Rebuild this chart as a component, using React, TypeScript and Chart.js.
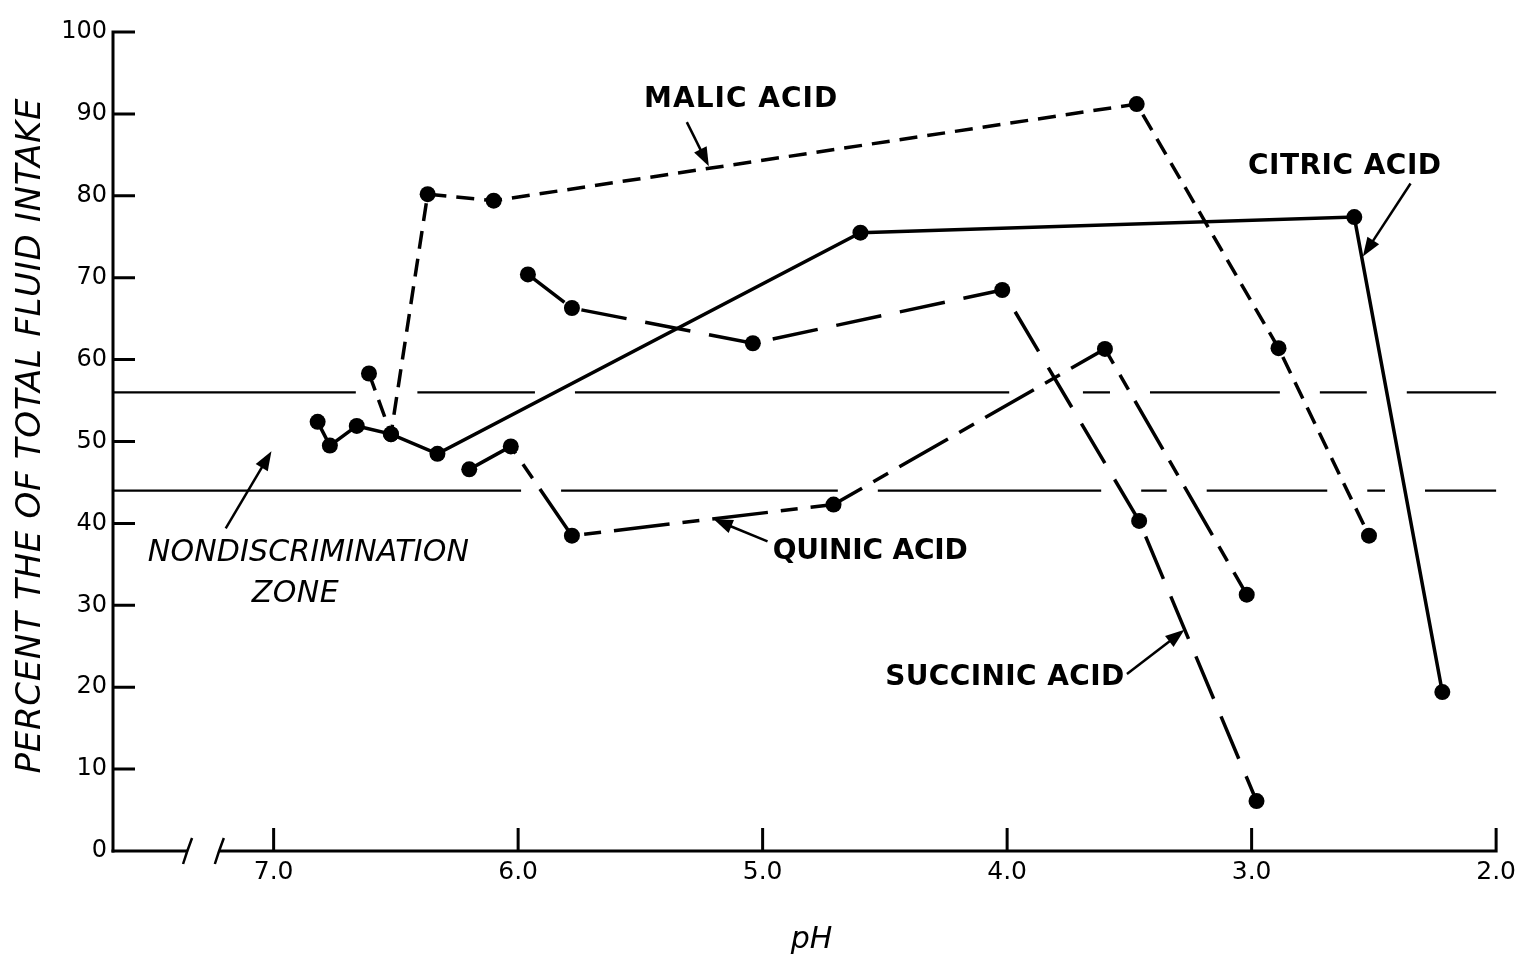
import React, { useEffect, useRef } from 'react';
import { Chart, registerables } from 'chart.js';

Chart.register(...registerables);

const FONT = '"DejaVu Sans", "Liberation Sans", sans-serif';

// ---- axes ----
const xTickValues = [7, 6, 5, 4, 3, 2];
const yTickValues = [0, 10, 20, 30, 40, 50, 60, 70, 80, 90, 100];
const X_MIN = 2.0;
const X_MAX = 7.657;
const axisBreakPH = [7.35, 7.22];

// ---- series (pH, percent of total fluid intake) ----
const citricPH = [6.82, 6.77, 6.66, 6.52, 6.33, 4.6, 2.58, 2.22];
const citricPct = [52.4, 49.5, 51.9, 50.9, 48.5, 75.5, 77.4, 19.4];

const malicPH = [6.61, 6.52, 6.37, 6.1, 3.47, 2.89, 2.52];
const malicPct = [58.3, 50.9, 80.2, 79.4, 91.2, 61.4, 38.5];

const succinicPH = [5.96, 5.78, 5.04, 4.02, 3.46, 2.98];
const succinicPct = [70.4, 66.3, 62.0, 68.5, 40.3, 6.1];

const quinicPH = [6.2, 6.03, 5.78, 4.71, 3.6, 3.02];
const quinicPct = [46.6, 49.4, 38.5, 42.3, 61.3, 31.3];

// nondiscrimination zone bounds (percent)
const nondiscriminationBounds = [56, 44];

// ---- annotations (positions in data units: [pH, percent]) ----
const seriesLabels = [
  { text: 'MALIC ACID', at: [5.09, 91.7], width: 193, from: [5.31, 89.0], to: [5.22, 83.6] },
  { text: 'CITRIC ACID', at: [2.62, 83.6], width: 193, from: [2.35, 81.5], to: [2.545, 72.6] },
  { text: 'QUINIC ACID', at: [4.56, 36.6], width: 195, from: [4.98, 37.8], to: [5.2, 40.5] },
  { text: 'SUCCINIC ACID', at: [4.01, 21.2], width: 239, from: [3.51, 21.6], to: [3.275, 27.0] },
];
const zoneLabels = [
  { text: 'NONDISCRIMINATION', at: [6.858, 36.36], width: 321 },
  { text: 'ZONE', at: [6.912, 31.39], width: 87 },
];
const zoneArrow = { from: [7.196, 39.4], to: [7.009, 48.8] };

const yTitle = 'PERCENT THE OF TOTAL FLUID INTAKE';
const xTitle = 'pH';

function toPoints(xs: number[], ys: number[]) {
  return xs.map((x, i) => ({ x, y: ys[i] }));
}

function drawFitted(ctx: any, text: string, x: number, y: number, font: string, width: number, baseline = 'middle') {
  ctx.font = font;
  ctx.letterSpacing = '0px';
  const w = ctx.measureText(text).width;
  const ls = text.length > 1 ? (width - w) / (text.length - 1) : 0;
  ctx.letterSpacing = ls + 'px';
  ctx.textAlign = 'center';
  ctx.textBaseline = baseline;
  ctx.fillText(text, x + ls / 2, y);
  ctx.letterSpacing = '0px';
}

function drawArrow(ctx: any, x1: number, y1: number, x2: number, y2: number) {
  const a = Math.atan2(y2 - y1, x2 - x1);
  const L = 19;
  const W = 7;
  ctx.beginPath();
  ctx.moveTo(x1, y1);
  ctx.lineTo(x2 - (L - 2) * Math.cos(a), y2 - (L - 2) * Math.sin(a));
  ctx.stroke();
  ctx.beginPath();
  ctx.moveTo(x2, y2);
  ctx.lineTo(x2 - L * Math.cos(a) + W * Math.sin(a), y2 - L * Math.sin(a) - W * Math.cos(a));
  ctx.lineTo(x2 - L * Math.cos(a) - W * Math.sin(a), y2 - L * Math.sin(a) + W * Math.cos(a));
  ctx.closePath();
  ctx.fill();
}

const GAP = 20;

const decorPlugin = {
  id: 'decor',
  beforeDatasetsDraw(chart: any) {
    const { ctx, chartArea: ca, scales } = chart;
    const x = scales.x;
    const y = scales.y;
    ctx.save();
    ctx.strokeStyle = '#000';
    ctx.lineWidth = 2.2;
    const xStart = ca.left;
    const xEnd = x.getPixelForValue(X_MIN);
    nondiscriminationBounds.forEach((v) => {
      const py = y.getPixelForValue(v);
      const cuts: number[] = [];
      chart.data.datasets.forEach((_ds: any, i: number) => {
        const pts = chart.getDatasetMeta(i).data;
        for (let k = 0; k < pts.length - 1; k++) {
          const a = pts[k];
          const b = pts[k + 1];
          if ((a.y - py) * (b.y - py) < 0) {
            cuts.push(a.x + ((py - a.y) / (b.y - a.y)) * (b.x - a.x));
          }
        }
      });
      cuts.sort((p, q) => p - q);
      let cur = xStart;
      ctx.beginPath();
      for (const c of cuts) {
        const g0 = c - GAP;
        const g1 = c + GAP;
        if (g0 > cur) {
          ctx.moveTo(cur, py);
          ctx.lineTo(g0, py);
        }
        cur = Math.max(cur, g1);
      }
      if (cur < xEnd) {
        ctx.moveTo(cur, py);
        ctx.lineTo(xEnd, py);
      }
      ctx.stroke();
    });
    ctx.restore();
  },
  afterDraw(chart: any) {
    const { ctx, chartArea: ca, scales } = chart;
    const x = scales.x;
    const y = scales.y;
    ctx.save();
    ctx.strokeStyle = '#000';
    ctx.fillStyle = '#000';
    ctx.lineCap = 'butt';
    ctx.lineWidth = 3;

    const left = ca.left;
    const bottom = ca.bottom;
    const top = y.getPixelForValue(100);

    // y axis + inward ticks
    ctx.beginPath();
    ctx.moveTo(left, top - 1.5);
    ctx.lineTo(left, bottom + 1.5);
    yTickValues.forEach((v) => {
      if (v === 0) return;
      const py = y.getPixelForValue(v);
      ctx.moveTo(left, py);
      ctx.lineTo(left + 22, py);
    });
    ctx.stroke();

    // x axis with break
    const b1 = x.getPixelForValue(axisBreakPH[0]);
    const b2 = x.getPixelForValue(axisBreakPH[1]);
    const right = x.getPixelForValue(X_MIN);
    ctx.beginPath();
    ctx.moveTo(left - 1.5, bottom);
    ctx.lineTo(b1, bottom);
    ctx.moveTo(b2, bottom);
    ctx.lineTo(right + 1.5, bottom);
    xTickValues.forEach((v) => {
      const px = x.getPixelForValue(v);
      ctx.moveTo(px, bottom);
      ctx.lineTo(px, bottom - 23);
    });
    ctx.stroke();

    ctx.lineWidth = 2.5;
    [b1, b2].forEach((bx) => {
      ctx.beginPath();
      ctx.moveTo(bx - 5, bottom + 13);
      ctx.quadraticCurveTo(bx - 1, bottom, bx + 4, bottom - 13);
      ctx.stroke();
    });

    // axis titles
    ctx.save();
    ctx.translate(40, 436);
    ctx.rotate(-Math.PI / 2);
    drawFitted(ctx, yTitle, 0, 0, `italic 34px ${FONT}`, 675, 'alphabetic');
    ctx.restore();
    ctx.font = `italic 30px ${FONT}`;
    ctx.textAlign = 'center';
    ctx.textBaseline = 'middle';
    ctx.fillText(xTitle, x.getPixelForValue(4.8), bottom + 89);

    // series labels with arrows
    ctx.lineWidth = 2.5;
    seriesLabels.forEach((l) => {
      drawFitted(ctx, l.text, x.getPixelForValue(l.at[0]), y.getPixelForValue(l.at[1]), `bold 28px ${FONT}`, l.width);
      drawArrow(
        ctx,
        x.getPixelForValue(l.from[0]),
        y.getPixelForValue(l.from[1]),
        x.getPixelForValue(l.to[0]),
        y.getPixelForValue(l.to[1])
      );
    });

    // nondiscrimination zone label
    zoneLabels.forEach((l) => {
      drawFitted(ctx, l.text, x.getPixelForValue(l.at[0]), y.getPixelForValue(l.at[1]), `italic 30px ${FONT}`, l.width);
    });
    drawArrow(
      ctx,
      x.getPixelForValue(zoneArrow.from[0]),
      y.getPixelForValue(zoneArrow.from[1]),
      x.getPixelForValue(zoneArrow.to[0]),
      y.getPixelForValue(zoneArrow.to[1])
    );

    ctx.restore();
  },
};

function seriesStyle(dash: number[]) {
  return {
    showLine: true,
    borderColor: '#000',
    backgroundColor: '#000',
    borderWidth: 3.5,
    borderDash: dash,
    borderCapStyle: 'butt',
    borderJoinStyle: 'miter',
    pointRadius: 8,
    pointHoverRadius: 8,
    pointBackgroundColor: '#000',
    pointBorderWidth: 0,
    tension: 0,
    clip: false,
  };
}

export default function App() {
  const canvasRef = useRef<HTMLCanvasElement>(null);

  useEffect(() => {
    if (!canvasRef.current) return;
    const chart = new Chart(canvasRef.current, {
      type: 'scatter',
      data: {
        datasets: [
          { label: 'Citric acid', data: toPoints(citricPH, citricPct), ...seriesStyle([]) } as any,
          { label: 'Malic acid', data: toPoints(malicPH, malicPct), ...seriesStyle([18, 10]) } as any,
          { label: 'Succinic acid', data: toPoints(succinicPH, succinicPct), ...seriesStyle([46, 19]) } as any,
          { label: 'Quinic acid', data: toPoints(quinicPH, quinicPct), ...seriesStyle([56, 13, 17, 13]) } as any,
        ],
      },
      options: {
        responsive: false,
        animation: false,
        devicePixelRatio: 1,
        layout: { padding: { left: 0, top: 32, right: 23, bottom: 0 } },
        plugins: {
          legend: { display: false },
          tooltip: { enabled: false },
        },
        scales: {
          x: {
            type: 'linear',
            reverse: true,
            min: X_MIN,
            max: X_MAX,
            afterBuildTicks: (s: any) => {
              s.ticks = xTickValues.map((v) => ({ value: v }));
            },
            afterFit: (s: any) => {
              s.height = 110;
            },
            ticks: {
              autoSkip: false,
              maxRotation: 0,
              padding: 6,
              color: '#000',
              font: { family: FONT, size: 25 },
              callback: (v: any) => Number(v).toFixed(1),
            },
            grid: { display: false, drawTicks: false },
            border: { display: false },
          },
          y: {
            type: 'linear',
            min: 0,
            max: 100,
            afterBuildTicks: (s: any) => {
              s.ticks = yTickValues.map((v) => ({ value: v }));
            },
            afterFit: (s: any) => {
              s.width = 113;
            },
            ticks: {
              padding: 6,
              color: '#000',
              font: { family: FONT, size: 24 },
              callback: (v: any) => String(v),
            },
            grid: { display: false, drawTicks: false },
            border: { display: false },
          },
        },
      } as any,
      plugins: [decorPlugin as any],
    });
    return () => chart.destroy();
  }, []);

  return (
    <div style={{ position: 'fixed', left: 0, top: 0, width: 1522, height: 961, background: '#fff' }}>
      <canvas ref={canvasRef} width={1522} height={961} style={{ display: 'block' }} />
    </div>
  );
}
